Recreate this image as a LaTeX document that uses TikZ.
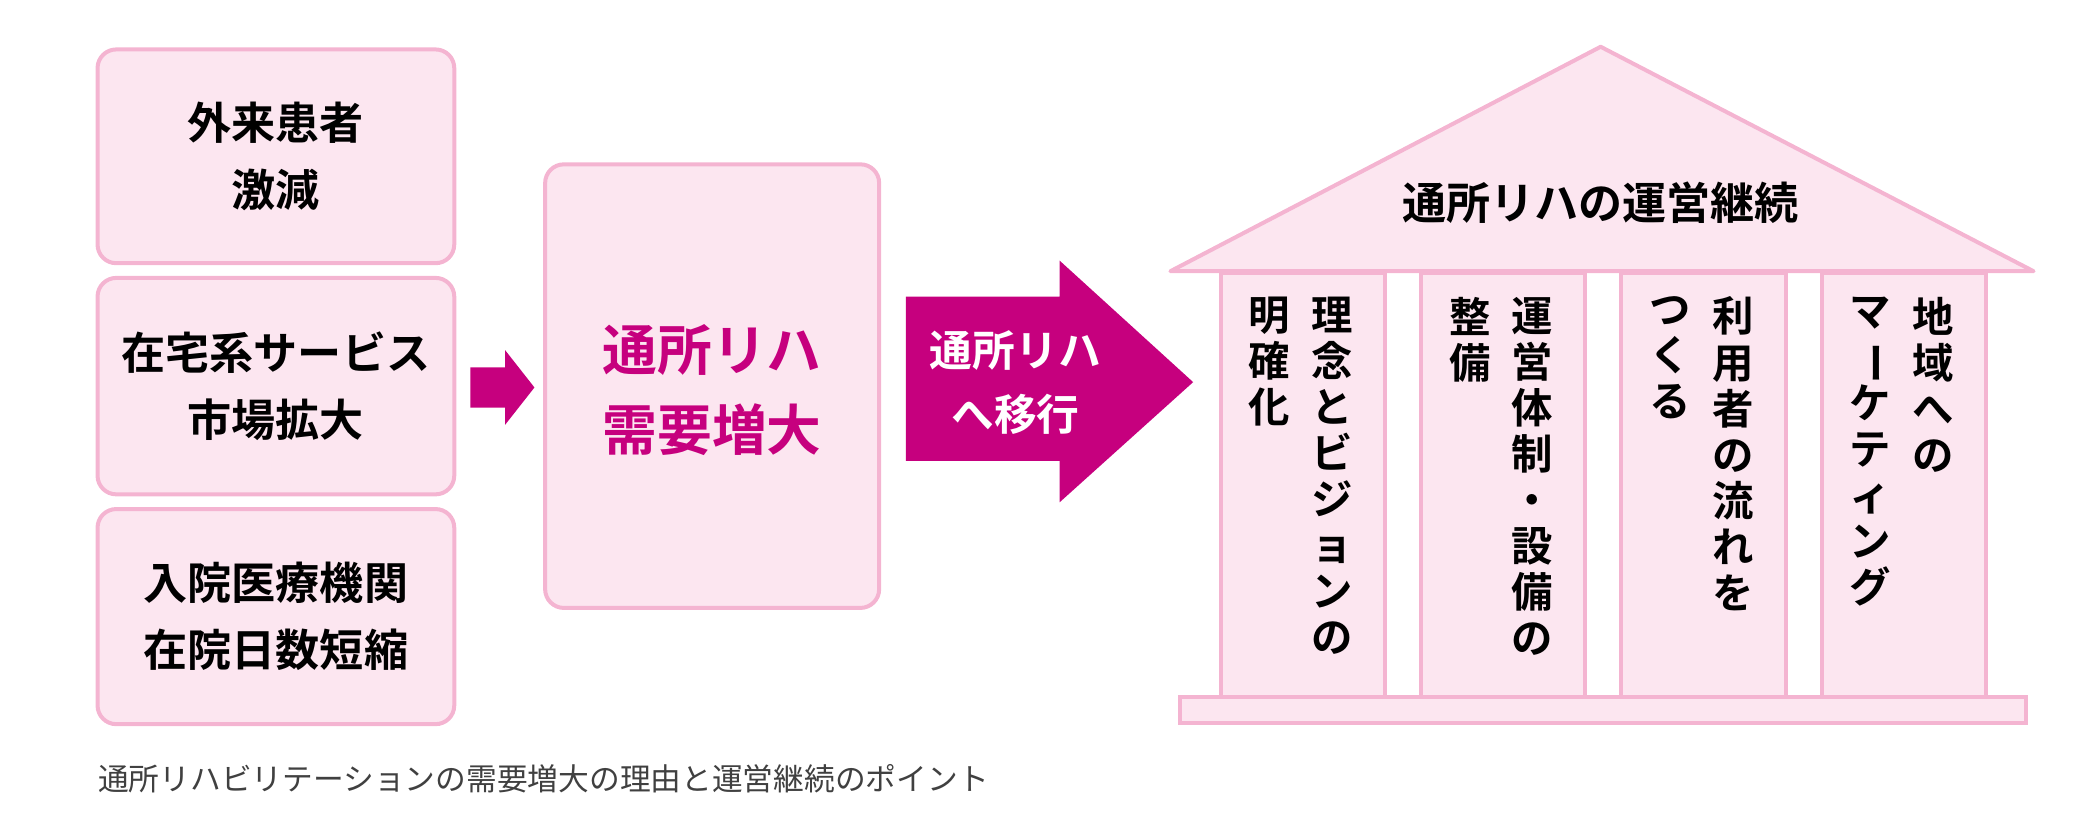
\documentclass[tikz,border=0pt]{standalone}
\usepackage{fontspec}
\setmainfont{Noto Sans CJK JP}
\newfontfamily\jpbold{Noto Sans CJK JP Bold}
\usetikzlibrary{positioning}
\definecolor{pinkline}{HTML}{F4B4D1}
\definecolor{pinkfill}{HTML}{FCE6F0}
\definecolor{magenta}{HTML}{C6007E}
\newcommand{\vbar}{\rotatebox[origin=c]{-90}{ー}}
\tikzset{
  box/.style={draw=pinkline, fill=pinkfill, line width=3pt, rounded corners=14pt},
  boxtext/.style={font=\jpbold\fontsize{33}{50}\selectfont, align=center},
  pillar/.style={draw=pinkline, fill=pinkfill, line width=3pt, anchor=north west,
    minimum width=123pt, minimum height=319pt, inner sep=0pt},
  vline/.style={font=\jpbold\fontsize{31}{34.5}\selectfont, align=center, anchor=north, inner sep=0pt}
}
\begin{document}
\begin{tikzpicture}[x=1pt,y=-1pt]
  \useasboundingbox (0,0) rectangle (1568,617);

  % left boxes
  \draw[box] (73,37) rectangle (340,197);
  \node[boxtext] (out) at (206.5,117) {外来患者\\激減};
  \draw[box] (73,208) rectangle (340,370);
  \node[boxtext] (home) at (206.5,289) {在宅系サービス\\市場拡大};
  \draw[box] (73,381) rectangle (340,542);
  \node[boxtext] (hosp) at (206.5,461) {入院医療機関\\在院日数短縮};

  % small arrow
  \fill[magenta] (352,275) -- (378,275) -- (378,262) -- (400,290) -- (378,318) -- (378,305) -- (352,305) -- cycle;

  % middle box
  \draw[box] (408,123) rectangle (658,455);
  \node[boxtext, text=magenta, font=\jpbold\fontsize{41}{60}\selectfont] (demand) at (533,292) {通所リハ\\需要増大};

  % big arrow
  \fill[magenta] (678,222) -- (793,222) -- (793,195) -- (893,286) -- (793,376) -- (793,345) -- (678,345) -- cycle;
  \node[boxtext, text=white, font=\jpbold\fontsize{32}{48}\selectfont] (shift) at (760,286) {通所リハ\\へ移行};

  % house
  \draw[pinkline, fill=pinkfill, line width=3pt, line join=round] (876,203) -- (1198,35) -- (1522,203) -- cycle;
  \node[boxtext, font=\jpbold\fontsize{33}{40}\selectfont] (roof) at (1198,152) {通所リハの運営継続};
  \node[pillar] (p1) at (912,203) {};
  \node[pillar] (p2) at (1062,203) {};
  \node[pillar] (p3) at (1212,203) {};
  \node[pillar] (p4) at (1362,203) {};
  \draw[pinkline, fill=pinkfill, line width=3pt] (883,522) rectangle (1516,541);

  % pillar texts
  \node[vline] (t1a) at (997,222) {理\\念\\と\\ビ\\ジ\\ョ\\ン\\の};
  \node[vline] (t1b) at (950,222) {明\\確\\化};
  \node[vline] (t2a) at (1147,222) {運\\営\\体\\制\\・\\設\\備\\の};
  \node[vline] (t2b) at (1100,222) {整\\備};
  \node[vline] (t3a) at (1297,222) {利\\用\\者\\の\\流\\れ\\を};
  \node[vline] (t3b) at (1250,222) {つ\\く\\る};
  \node[vline] (t4a) at (1447,222) {地\\域\\へ\\の};
  \node[vline] (t4b) at (1400,222) {マ\\\vbar\\ケ\\テ\\ィ\\ン\\グ};

  % caption
  \node[anchor=west, text=black!75, font=\fontsize{23}{26}\selectfont] (caption) at (70,583)
    {通所リハビリテーションの需要増大の理由と運営継続のポイント};
\end{tikzpicture}
\end{document}
